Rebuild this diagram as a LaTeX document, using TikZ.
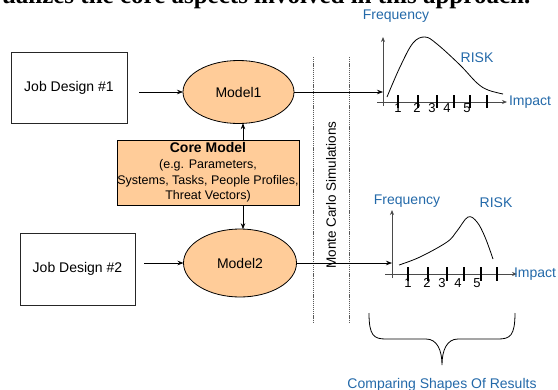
\documentclass[tikz,border=0pt]{standalone}
\usepackage{fontspec}
\setmainfont{Liberation Sans}
\newfontfamily\leadfont{Liberation Serif}
\usetikzlibrary{shapes.geometric,arrows.meta}
\definecolor{riskblue}{HTML}{2369A9}
\definecolor{modelfill}{HTML}{FFCC99}
\definecolor{axisgray}{HTML}{4A4A4A}
\begin{document}
\begin{tikzpicture}[x=1pt,y=-1pt,
  every node/.style={inner sep=0pt,outer sep=0pt},
  lbl/.style={font=\fontsize{14}{16}\selectfont},
  bluelbl/.style={lbl,text=riskblue},
  num/.style={font=\fontsize{13}{15}\selectfont},
  jobbox/.style={rectangle,draw=black!85,line width=0.8pt,minimum width=116pt,minimum height=71pt,lbl},
  model/.style={ellipse,draw=black,fill=modelfill,line width=0.8pt,minimum width=111pt,minimum height=63pt,lbl},
  corebox/.style={rectangle,draw=black,fill=modelfill,line width=0.8pt,minimum width=182pt,minimum height=65pt,align=center,font=\fontsize{12.5}{15.6}\selectfont},
  arr/.style={-{Stealth[length=6pt,width=4.5pt]},line width=0.7pt},
  axis/.style={-{Stealth[length=5pt,width=4pt]},line width=0.8pt,draw=axisgray},
  tick/.style={line width=1.6pt},
  curve/.style={line width=0.8pt},
  mcline/.style={line width=0.9pt,draw=black!65,dash pattern=on 1.2pt off 0.9pt}
]
\clip (0,0) rectangle (558,389);
\useasboundingbox (0,0) rectangle (558,389);

% sentence from the surrounding page, cut off at the top edge
\node[anchor=base west,font=\leadfont\bfseries\fontsize{25}{28}\selectfont] (lead) at (2,3.5) {ualizes the core aspects involved in this approach.};

% job designs and models
\node[jobbox] (jd1) at (69,87.5) {Job Design \#1};
\node[jobbox,minimum width=115pt,minimum height=72pt] (jd2) at (77.5,269) {Job Design \#2};
\node[model] (m1) at (238.5,92) {Model1};
\node[model,minimum width=113pt,minimum height=68pt] (m2) at (240,263) {Model2};
\node[corebox] (core) at (208,172.5) {{\bfseries\fontsize{14}{16}\selectfont Core Model}\\(e.g. Parameters,\\Systems, Tasks, People Profiles,\\Threat Vectors)};

\draw[arr,shorten <=12pt] (jd1.east |- m1.west) -- (m1.west);
\draw[arr,shorten <=9pt] (jd2.east |- m2.west) -- (m2.west);
\draw[arr] ([xshift=4.5pt]core.north -| m1.south) -- ([xshift=4.5pt,yshift=0.3pt]m1.south);
\draw[arr] ([xshift=3pt]core.south -| m2.north) -- ([xshift=3pt,yshift=-0.2pt]m2.north);

% Monte Carlo band
\coordinate (d1t) at (313,57);
\coordinate (d1b) at (313,323);
\coordinate (d2t) at (349,57);
\coordinate (d2b) at (349,323);
\draw[mcline] (d1t) -- (d1b);
\draw[mcline] (d2t) -- (d2b);
\node[rotate=90,font=\fontsize{13.5}{16}\selectfont] (mc) at (331,195) {Monte Carlo Simulations};

% upper result chart
\coordinate (o1) at (383,102);
\draw[arr] (m1.east) -- (m1.east -| o1);
\draw[axis] (383,106) -- (383,37);
\draw[axis] (377,102) -- (507,102);
\foreach \x in {398,418,437,454,470,487} \draw[tick] (\x,95) -- (\x,108);
\foreach \x/\n in {398/1,417/2,432/3,447/4,467/5} \node[num] at (\x,108) {\n};
\draw[curve] plot[smooth,tension=0.6] coordinates {(387,97) (400,67) (413,43) (425,37) (437,44) (460,65) (477,83) (488,90) (503,94)};
\node[bluelbl] (f1) at (396,16.5) {Frequency};
\node[bluelbl] (r1) at (477,58) {RISK};
\node[bluelbl,anchor=west] (i1) at (509,102) {Impact};

% lower result chart
\coordinate (o2) at (392,274);
\draw[arr] (m2.east) -- (m2.east -| o2);
\draw[axis] (392,278) -- (392,210);
\draw[axis] (385,274) -- (517,274);
\foreach \x in {408,428,447,464,481,497} \draw[tick] (\x,267) -- (\x,281);
\foreach \x/\n in {408/1,427/2,442/3,458/4,477/5} \node[num] at (\x,283) {\n};
\draw[curve] plot[smooth,tension=0.6] coordinates {(399,265) (420,257) (447,242) (457,231) (468,217) (477,222) (485,237) (493,259)};
\node[bluelbl] (f2) at (407,201) {Frequency};
\node[bluelbl] (r2) at (496,203) {RISK};
\node[bluelbl,anchor=west] (i2) at (514,274) {Impact};

% brace gathering both results
\coordinate (bl) at (369,313);
\coordinate (bt) at (442,365);
\coordinate (br) at (515,313);
\draw[curve] (bl) .. controls (369,336) and (374,339) .. (386,339) -- (426,339)
  .. controls (437,339) and (442,350) .. (bt)
  .. controls (442,350) and (447,339) .. (458,339) -- (498,339)
  .. controls (510,339) and (515,336) .. (br);
\node[bluelbl,anchor=base] (cmp) at (bt |- 0,388) {Comparing Shapes Of Results};
\end{tikzpicture}
\end{document}
